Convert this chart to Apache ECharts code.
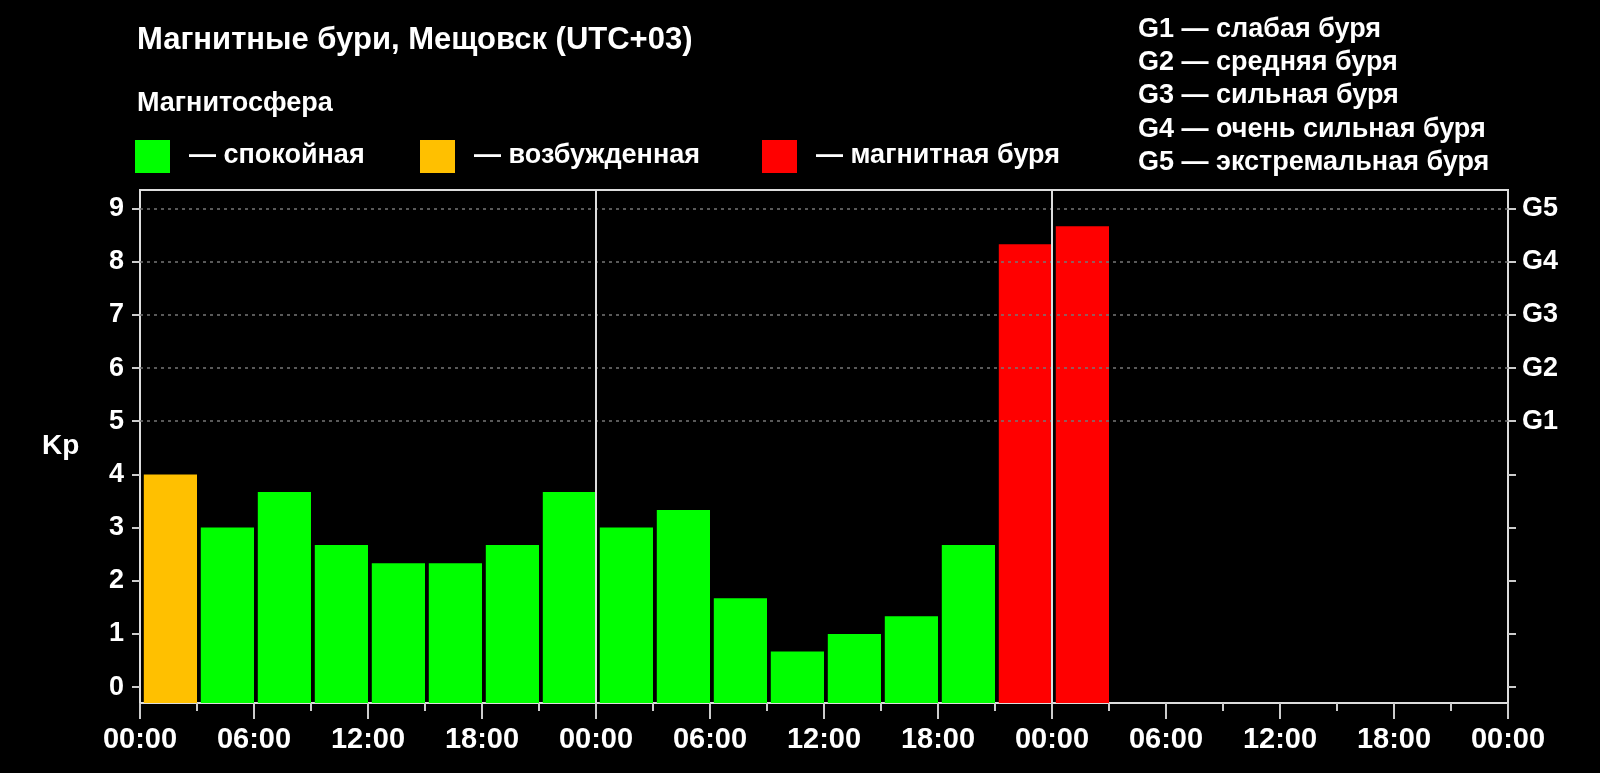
<!DOCTYPE html>
<html><head><meta charset="utf-8">
<script src="https://cdn.jsdelivr.net/npm/echarts@6/dist/echarts.min.js"></script>
<style>html,body{margin:0;background:#000}#c{width:1600px;height:773px}</style></head>
<body><div id="c"></div>
<script>
const startHours = [0,3,6,9,12,15,18,21,24,27,30,33,36,39,42,45,48];
const kpValues = [4,3,3.67,2.67,2.33,2.33,2.67,3.67,3,3.33,1.67,0.67,1,1.33,2.67,8.33,8.67];
const barColors = ['#ffc000','#00ff00','#ff0000'];
const stormLevels = [5,6,7,8,9];
const stormLabels = ['G1','G2','G3','G4','G5'];
const gNotes = ['G1 — слабая буря','G2 — средняя буря','G3 — сильная буря','G4 — очень сильная буря','G5 — экстремальная буря'];
const legendNames = ['— спокойная','— возбужденная','— магнитная буря'];
const dayLines = [24,48];
const YMIN=-0.3, YMAX=9.35;
const F='"Liberation Sans", Arial, sans-serif';
function colorOf(v){return v>=5?barColors[2]:(v>=4?barColors[0]:barColors[1]);}
const data = kpValues.map((v,i)=>[startHours[i],v]);
const chart = echarts.init(document.getElementById('c'));
const T=(text,size)=>({text,fontSize:size,fill:'#fff',fontFamily:F,fontWeight:'bold'});
const graphics = [
 {type:'text',left:137,top:25,style:T('Магнитные бури, Мещовск (UTC+03)',31)},
 {type:'text',left:137,top:90,style:T('Магнитосфера',27)},
 {type:'text',left:42,top:432,style:T('Kp',28)}
];
const legX=[135,420,762];
legendNames.forEach((n,i)=>{
 graphics.push({type:'rect',shape:{x:legX[i],y:140,width:35,height:33},style:{fill:barColors[[1,0,2][i]]}});
 graphics.push({type:'text',left:legX[i]+54,top:142,style:T(n,27)});
});
gNotes.forEach((n,i)=>graphics.push({type:'text',left:1138,top:16+i*33.2,style:T(n,27)}));
const yTicks=[0,1,2,3,4,5,6,7,8,9];
chart.setOption({
 backgroundColor:'#000',animation:false,
 grid:{left:140,right:92,top:190,bottom:70,show:true,borderColor:'#ddd',borderWidth:2},
 graphic:graphics,
 xAxis:{type:'value',min:0,max:72,interval:6,
  axisLine:{show:false,onZero:false},
  axisTick:{show:true,length:16,lineStyle:{color:'#ccc',width:2}},
  minorTick:{show:true,splitNumber:2,length:8,lineStyle:{color:'#ccc',width:2}},
  splitLine:{show:false},minorSplitLine:{show:false},
  axisLabel:{color:'#fff',fontSize:29,fontWeight:'bold',fontFamily:F,margin:22,
   formatter:v=>String(v%24).padStart(2,'0')+':00'}},
 yAxis:[
  {type:'value',min:YMIN,max:YMAX,axisLine:{show:false,onZero:false},splitLine:{show:false},
   axisTick:{show:true,length:8,customValues:yTicks,lineStyle:{color:'#ccc',width:2}},
   axisLabel:{customValues:yTicks,color:'#fff',fontSize:27,fontWeight:'bold',fontFamily:F,margin:16}},
  {type:'value',min:YMIN,max:YMAX,position:'right',axisLine:{show:false,onZero:false},splitLine:{show:false},
   axisTick:{show:true,length:8,customValues:yTicks,lineStyle:{color:'#ccc',width:2}},
   axisLabel:{customValues:stormLevels,color:'#fff',fontSize:27,fontWeight:'bold',fontFamily:F,margin:14,
    formatter:v=>stormLabels[stormLevels.indexOf(Math.round(v))]||''}}
 ],
 series:[
  {type:'custom',data:data,renderItem:(p,api)=>{
    const t=api.value(0),v=api.value(1);
    const a=api.coord([t+0.2,v]),b=api.coord([t+3,YMIN]);
    return {type:'rect',shape:{x:a[0],y:a[1],width:b[0]-a[0],height:b[1]-a[1]},style:{fill:colorOf(v)}};
  },
  markLine:{silent:true,symbol:'none',label:{show:false},
   data:stormLevels.map(l=>({yAxis:l,lineStyle:{color:'#777',type:[3,4],width:1.5}})).concat(
    dayLines.map(d=>({xAxis:d,lineStyle:{color:'#ddd',type:'solid',width:2}})))}}
 ]
});
</script></body></html>
